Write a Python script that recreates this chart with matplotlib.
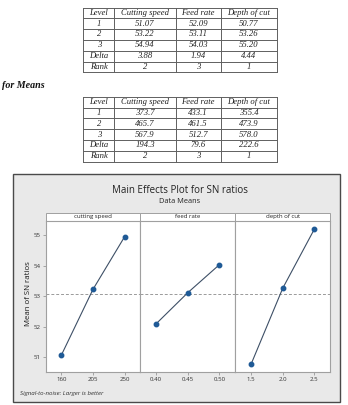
import matplotlib
matplotlib.use('Agg')
import matplotlib.pyplot as plt
from matplotlib.patches import Rectangle
import numpy as np

# ---------------- data ----------------
table_levels = ['1', '2', '3', 'Delta', 'Rank']
table_headers = ['Level', 'Cutting speed', 'Feed rate', 'Depth of cut']

sn_cutting_speed = [51.07, 53.22, 54.94]
sn_feed_rate = [52.09, 53.11, 54.03]
sn_depth_of_cut = [50.77, 53.26, 55.20]
sn_delta = [3.88, 1.94, 4.44]
sn_rank = [2, 3, 1]

mean_cutting_speed = [373.7, 465.7, 567.9]
mean_feed_rate = [433.1, 461.5, 512.7]
mean_depth_of_cut = [355.4, 473.9, 578.0]
mean_delta = [194.3, 79.6, 222.6]
mean_rank = [2, 3, 1]

factor_names = ['cutting speed', 'feed rate', 'depth of cut']
cutting_speed_levels = ['160', '205', '250']
feed_rate_levels = ['0.40', '0.45', '0.50']
depth_of_cut_levels = ['1.5', '2.0', '2.5']
y_ticks = [51, 52, 53, 54, 55]

# ---------------- figure ----------------
W, H = 348, 405
fig = plt.figure(figsize=(W / 100, H / 100), dpi=100)
fig.patch.set_facecolor('white')

bg = fig.add_axes([0, 0, 1, 1])
bg.set_xlim(0, W)
bg.set_ylim(H, 0)
bg.axis('off')


def draw_table(top, rows, fmt):
    col_x = [83.3, 114.3, 175.7, 220.7, 276.7]
    row_h = 10.8
    n = len(rows) + 1
    bottom = top + n * row_h
    lc = '#606060'
    for i in range(n + 1):
        bg.plot([col_x[0], col_x[-1]], [top + i * row_h] * 2, color=lc, lw=0.7)
    for x in col_x:
        bg.plot([x, x], [top, bottom], color=lc, lw=0.7)
    for j, h in enumerate(table_headers):
        bg.text((col_x[j] + col_x[j + 1]) / 2, top + row_h / 2, h,
                ha='center', va='center', family='Liberation Serif',
                style='italic', fontsize=6.2, color='#222222')
    for i, (lvl, vals) in enumerate(zip(table_levels, rows)):
        yc = top + (i + 1.5) * row_h
        bg.text((col_x[0] + col_x[1]) / 2, yc, lvl, ha='center', va='center',
                family='Liberation Serif', style='italic', fontsize=6.2,
                color='#222222')
        for j, v in enumerate(vals):
            s = str(int(v)) if lvl == 'Rank' else fmt.format(v)
            bg.text((col_x[j + 1] + col_x[j + 2]) / 2, yc, s, ha='center',
                    va='center', family='Liberation Serif', style='italic',
                    fontsize=6.2, color='#222222')


sn_rows = [[sn_cutting_speed[k], sn_feed_rate[k], sn_depth_of_cut[k]] for k in range(3)]
sn_rows += [sn_delta, sn_rank]
mean_rows = [[mean_cutting_speed[k], mean_feed_rate[k], mean_depth_of_cut[k]] for k in range(3)]
mean_rows += [mean_delta, mean_rank]

draw_table(7.5, sn_rows, '{:.2f}')
bg.text(2.5, 85.5, 'for Means', ha='left', va='center', family='Liberation Serif',
        style='italic', weight='bold', fontsize=7.2, color='#111111')
draw_table(96.8, mean_rows, '{:.1f}')

# outer Minitab panel
bg.add_patch(Rectangle((12.7, 174.3), 327, 227.7, facecolor='#e9e9e9',
                       edgecolor='#4a4a4a', lw=1.0))
bg.text(180, 190.5, 'Main Effects Plot for SN ratios', ha='center', va='center',
        family='Open Sans', fontsize=7.0, color='#222222')
bg.text(180, 201.8, 'Data Means', ha='center', va='center', family='Open Sans',
        fontsize=5.3, color='#222222')
bg.text(20.5, 394, 'Signal-to-noise: Larger is better', ha='left', va='center',
        family='Open Sans', style='italic', fontsize=4.45, color='#333333')
bg.text(28, 294, 'Mean of SN ratios', ha='center', va='center', rotation=90,
        family='Open Sans', fontsize=5.7, color='#1a1a1a')

# strip headers
px = [45.7, 140.3, 235.3, 330.3]
for k, name in enumerate(factor_names):
    bg.add_patch(Rectangle((px[k], 212.7), px[k + 1] - px[k], 8.3,
                           facecolor='white', edgecolor='#a0a0a0', lw=0.7))
    bg.text((px[k] + px[k + 1]) / 2, 216.9, name, ha='center', va='center',
            family='Open Sans', fontsize=4.3, color='#222222')

# panels
levels_list = [cutting_speed_levels, feed_rate_levels, depth_of_cut_levels]
values_list = [sn_cutting_speed, sn_feed_rate, sn_depth_of_cut]
overall_mean = np.mean(sn_cutting_speed + sn_feed_rate + sn_depth_of_cut)
y_top, y_bot = 221.0, 372.3
for k in range(3):
    ax = fig.add_axes([px[k] / W, 1 - y_bot / H, (px[k + 1] - px[k]) / W,
                       (y_bot - y_top) / H])
    ax.set_facecolor('white')
    xs = np.arange(3)
    ax.axhline(overall_mean, color='#9a9a9a', lw=0.7, ls=(0, (3, 2)))
    ax.plot(xs, values_list[k], color='#3d4f66', lw=0.8, zorder=3)
    ax.plot(xs, values_list[k], 'o', color='#1f5a96', ms=3.2, zorder=4)
    ax.set_xlim(-0.5, 2.5)
    ax.set_ylim(50.5, 55.46)
    ax.set_xticks(xs)
    ax.set_xticklabels(levels_list[k], fontsize=4.4, family='Open Sans',
                       color='#333333')
    ax.set_yticks(y_ticks)
    if k == 0:
        ax.set_yticklabels([str(t) for t in y_ticks], fontsize=4.4,
                           family='Open Sans', color='#333333')
    else:
        ax.tick_params(axis='y', left=False, labelleft=False)
    ax.tick_params(length=2, width=0.5, color='#888888', pad=1.5)
    for s in ax.spines.values():
        s.set_color('#a0a0a0')
        s.set_linewidth(0.8)

fig.savefig('out.png', dpi=100, facecolor='white')
